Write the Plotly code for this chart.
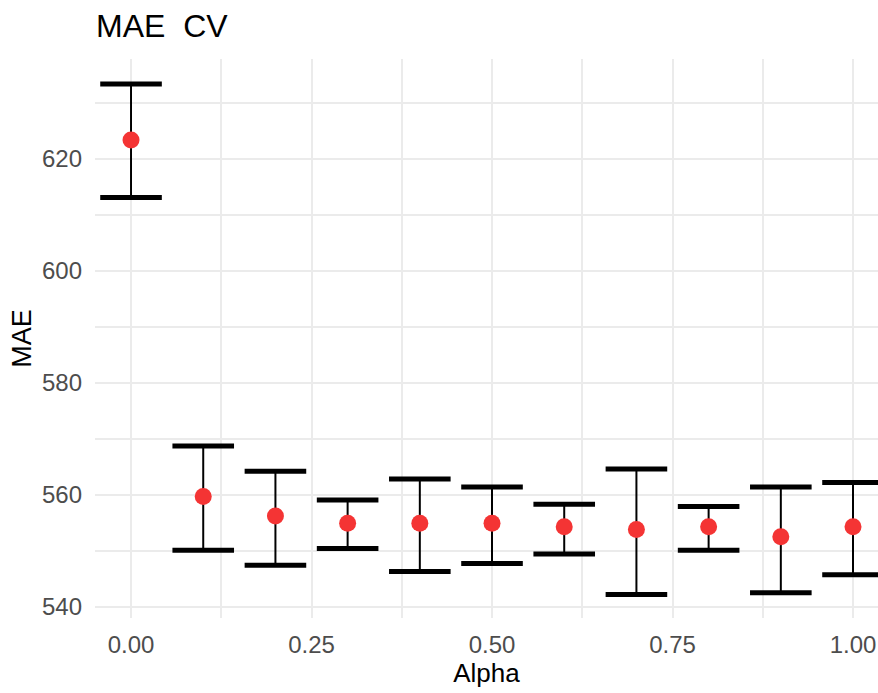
import plotly.graph_objects as go

# Cross-validated MAE for each elastic-net mixing value
alpha = [0.0, 0.1, 0.2, 0.3, 0.4, 0.5, 0.6, 0.7, 0.8, 0.9, 1.0]
mae_mean = [623.4, 559.7, 556.2, 554.9, 554.9, 554.9, 554.3, 553.8, 554.3, 552.5, 554.3]
mae_low = [613.1, 550.1, 547.4, 550.4, 546.3, 547.7, 549.4, 542.2, 550.1, 542.5, 545.7]
mae_high = [633.4, 568.7, 564.2, 559.05, 562.8, 561.4, 558.3, 564.6, 557.9, 561.4, 562.2]

x_ticks = [0.0, 0.25, 0.5, 0.75, 1.0]
x_tick_text = ["0.00", "0.25", "0.50", "0.75", "1.00"]
y_ticks = [540, 560, 580, 600, 620]

err_plus = [h - m for h, m in zip(mae_high, mae_mean)]
err_minus = [m - l for m, l in zip(mae_mean, mae_low)]

fig = go.Figure()

# vertical whiskers
fig.add_trace(go.Scatter(
    x=alpha, y=mae_mean, mode="markers",
    marker=dict(size=1, color="rgba(0,0,0,0)"),
    error_y=dict(type="data", symmetric=False, array=err_plus, arrayminus=err_minus,
                 color="black", thickness=2, width=0),
    hoverinfo="skip", showlegend=False,
))

# caps at both ends
for ends in (mae_high, mae_low):
    fig.add_trace(go.Scatter(
        x=alpha, y=ends, mode="markers",
        marker=dict(symbol="line-ew", size=44, line=dict(color="black", width=5)),
        hoverinfo="skip", showlegend=False,
    ))

# mean points
fig.add_trace(go.Scatter(
    x=alpha, y=mae_mean, mode="markers",
    marker=dict(size=17, color="#F43434"),
    showlegend=False,
))

grid = "#EBEBEB"
fig.update_layout(
    width=878, height=693,
    margin=dict(l=95, r=0, t=59, b=75),
    paper_bgcolor="white", plot_bgcolor="white",
    font=dict(family="Liberation Sans, Arial, sans-serif", color="#4D4D4D"),
    title=dict(text="MAE  CV", x=96 / 878, xanchor="left", y=1 - 26 / 693, yanchor="middle",
               font=dict(size=32, color="black")),
    xaxis=dict(
        range=[-0.0499, 1.0346], tickvals=x_ticks, ticktext=x_tick_text,
        showgrid=True, gridcolor=grid, gridwidth=2, zeroline=False, showline=False,
        ticks="", tickfont=dict(size=24, color="#4D4D4D"), ticklabelstandoff=10,
        minor=dict(dtick=0.125, tick0=0, showgrid=True, gridcolor=grid, gridwidth=1.5),
        title=dict(text="Alpha", font=dict(size=26, color="black"), standoff=4),
    ),
    yaxis=dict(
        range=[537.98, 637.87], tickvals=y_ticks,
        showgrid=True, gridcolor=grid, gridwidth=2, zeroline=False, showline=False,
        ticks="", tickfont=dict(size=24, color="#4D4D4D"), ticklabelstandoff=12,
        minor=dict(dtick=10, tick0=540, showgrid=True, gridcolor=grid, gridwidth=1.5),
        title=dict(text="MAE", font=dict(size=27, color="black"), standoff=2),
    ),
)

fig.write_html("out.html")
